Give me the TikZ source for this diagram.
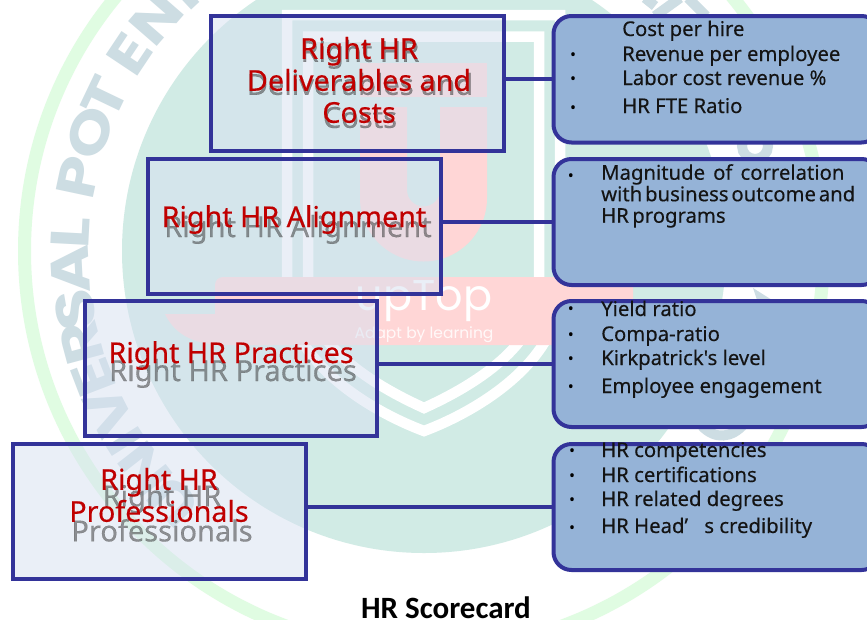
\documentclass[tikz,border=0pt]{standalone}
\usepackage{fontspec}
\usepackage{graphicx}
\usetikzlibrary{calc}
\setmainfont{Noto Sans}
\newfontfamily\wmfont{Poppins}
\newfontfamily\capfont{Carlito}
\newfontfamily\itemfont{Noto Sans}[FakeBold=0.25]
\newfontfamily\headfont{Noto Sans}[FakeBold=0.35]
\newcommand\wordgap[1]{\spaceskip=#1em\relax}
\definecolor{edgeblue}{HTML}{333399}
\definecolor{rfill}{HTML}{95B3D7}
\definecolor{lfill}{HTML}{D7E1F1}
\definecolor{tealbg}{HTML}{D1EBE5}
\definecolor{greenring}{HTML}{E0FCE2}
\definecolor{lettergray}{HTML}{CDDDE3}
\definecolor{pinkbg}{HTML}{FFD6D6}
\definecolor{redtxt}{HTML}{C00000}
\tikzset{
  x=1pt,y=1pt,
  lbox/.style={draw=edgeblue,line width=4pt,fill=lfill,fill opacity=.5,draw opacity=1,outer sep=0pt,inner sep=0pt,minimum height=135pt},
  rbox/.style={draw=edgeblue,line width=4pt,fill=rfill,rounded corners=18pt,outer sep=0pt,inner sep=0pt,minimum width=326pt},
  link/.style={draw=edgeblue,line width=3.6pt},
  headtxt/.style={text=redtxt,inner sep=0pt,align=center,font=\headfont\fontsize{28.7}{32}\selectfont},
  shadetxt/.style={text=black!75,text opacity=.55,inner sep=0pt,align=center,font=\headfont\fontsize{29}{35}\selectfont},
  itemtxt/.style={text=black!92,inner sep=0pt,anchor=base west,font=\itemfont\fontsize{20.3}{22}\selectfont},
  bul/.style={text=black,inner sep=0pt,yshift=-2.5pt,font=\fontsize{16}{16}\selectfont},
  band/.style={draw=white,line width=10.5pt,miter limit=10},
  strokegray/.style={draw=lettergray,line width=10pt},
  ringletter/.style={text=lettergray,inner sep=0pt,anchor=base,font=\wmfont\bfseries\fontsize{54}{54}\selectfont},
}
\begin{document}
\begin{tikzpicture}
\useasboundingbox (0,0) rectangle (867,-619);
\clip (0,0) rectangle (867,-619);
\coordinate (cc) at (424,-251);
% watermark
\fill[white] (0,0) rectangle (867,-619);
\draw[greenring,line width=13pt] (cc) circle[radius=399.5];
\fill[tealbg] (cc) circle[radius=302];
\foreach \ch/\ang in {U/225,N/218,I/212.5,V/207,E/201,R/195,S/189.6,A/183,L/177,P/168,O/160.5,T/154.4,E/146.3,N/139,T/133}{
  \node[ringletter,rotate=\ang-90] (ring\ang) at ($(cc)+(\ang:335)$) {\scalebox{1.22}[1]{\ch}};
}
\draw[strokegray] (645,2) -- (655,-6);
\draw[strokegray] (680,2) -- (655,-16);
\draw[strokegray] (688,2) -- (706,-16);
\draw[lettergray,line width=10pt] (755,-146) circle[radius=13];
\fill[lettergray] (753,-288) -- (757,-300) -- (772,-300) -- cycle;
\draw[lettergray,line width=10pt] (702,-426) .. controls (715,-440) and (732,-438) .. (744,-424);
% shield
\draw[band] (287,-290) -- (287,-15) -- (560,-15) -- (560,-290) .. controls (560,-360) and (480,-410) .. (424,-431) .. controls (368,-410) and (287,-360) .. (287,-290);
\draw[band] (308,-290) -- (308,-36.5) -- (539,-36.5) -- (539,-290) .. controls (539,-345) and (475,-385) .. (424,-408) .. controls (373,-385) and (308,-345) .. (308,-290);
% logo
\fill[pinkbg] (360,-63) rectangle (487,-97);
\fill[pinkbg] (360,-107) -- (407,-107) -- (407,-190) arc[start angle=180,end angle=360,radius=16.5] -- (440,-107) -- (487,-107) -- (487,-198) arc[start angle=0,end angle=-180,radius=63.5] -- cycle;
\fill[pinkbg] (165,-314) -- (215,-314) -- (215,-285) arc[start angle=180,end angle=90,radius=8] -- (633,-277) -- (633,-345) -- (225,-345) .. controls (195,-345) and (175,-335) .. cycle;
\node[inner sep=0pt,anchor=base,text=white,font=\wmfont\fontsize{43}{43}\selectfont] (wmA) at (424,-310) {upTop};
\node[inner sep=0pt,anchor=base,text=white,text opacity=.85,font=\wmfont\fontsize{15.5}{16}\selectfont] (wmB) at (424,-338) {Adapt by learning};
% boxes
\node[lbox,minimum width=293pt] (l1) at (357.5,-83.5) {};
\node[lbox,minimum width=293.5pt] (l2) at (294.25,-226.5) {};
\node[lbox,minimum width=292.5pt] (l3) at (230.75,-368.5) {};
\node[lbox,minimum width=293pt] (l4) at (159.5,-511.5) {};
\node[rbox,minimum height=126.5pt] (r1) at (716.5,-79.25) {};
\node[rbox,minimum height=126pt] (r2) at (716.5,-222) {};
\node[rbox,minimum height=126pt] (r3) at (716.5,-364) {};
\node[rbox,minimum height=126pt] (r4) at (716.5,-507) {};
\path[link] (r1.west) -- (r1.west -| l1.east);
\path[link] (r2.west) -- (r2.west -| l2.east);
\path[link] (r3.west) -- (r3.west -| l3.east);
\path[link] (r4.west) -- (r4.west -| l4.east);
% shadows and heads
\node[shadetxt,font=\headfont\fontsize{29}{33}\selectfont] (s1) at (360,-84) {Right HR\\Deliverables and\\Costs};
\node[shadetxt,anchor=base] (s2) at (298,-237) {Right HR Alignment};
\node[shadetxt,anchor=base] (s3) at (233,-381) {Right HR Practices};
\node[shadetxt] (s4) at (162,-513) {Right HR\\Professionals};
\node[headtxt] (h1) at (359,-80) {Right HR\\Deliverables and\\Costs};
\node[headtxt,anchor=base] (h2) at (294,-227) {Right HR Alignment};
\node[headtxt,anchor=base] (h3) at (231,-363) {Right HR Practices};
\node[headtxt] (h4) at (159,-495) {Right HR\\Professionals};
% items
\node[itemtxt] (a1) at (622,-36) {Cost per hire};
\node[itemtxt] (a2) at (622,-61) {Revenue per employee};
\node[itemtxt] (a3) at (622,-85) {Labor cost revenue \%};
\node[itemtxt] (a4) at (622,-113) {HR FTE Ratio};
\node[bul] (ba2) at (573,-54.5) {•};
\node[bul] (ba3) at (573,-78.5) {•};
\node[bul] (ba4) at (573,-107) {•};
\node[itemtxt,align=left,anchor=north west,font=\itemfont\fontsize{20.3}{21.5}\selectfont] (b1) at (601,-164) {\wordgap{.4}Magnitude of correlation\\\wordgap{.14}with business outcome and\\\wordgap{.17}HR programs};
\node[bul] (bb1) at (571,-175.5) {•};
\node[itemtxt] (c1) at (601,-316) {Yield ratio};
\node[itemtxt] (c2) at (601,-341) {Compa-ratio};
\node[itemtxt] (c3) at (601,-365) {Kirkpatrick's level};
\node[itemtxt] (c4) at (601,-393) {Employee engagement};
\node[bul] (bc1) at (571,-308.5) {•};
\node[bul] (bc2) at (571,-334.5) {•};
\node[bul] (bc3) at (571,-358.5) {•};
\node[bul] (bc4) at (571,-386.5) {•};
\node[itemtxt] (d1) at (601,-457) {HR competencies};
\node[itemtxt] (d2) at (601,-482) {HR certifications};
\node[itemtxt] (d3) at (601,-506) {HR related degrees};
\node[itemtxt] (d4) at (601,-533) {HR Head’ \kern11pt s credibility};
\node[bul] (bd1) at (572,-450.5) {•};
\node[bul] (bd2) at (572,-475.5) {•};
\node[bul] (bd3) at (572,-499.5) {•};
\node[bul] (bd4) at (572,-527.5) {•};
\node[inner sep=0pt,anchor=base,text=black,font=\capfont\bfseries\fontsize{31}{31}\selectfont] (cap) at (446,-618) {HR Scorecard};
\end{tikzpicture}
\end{document}
